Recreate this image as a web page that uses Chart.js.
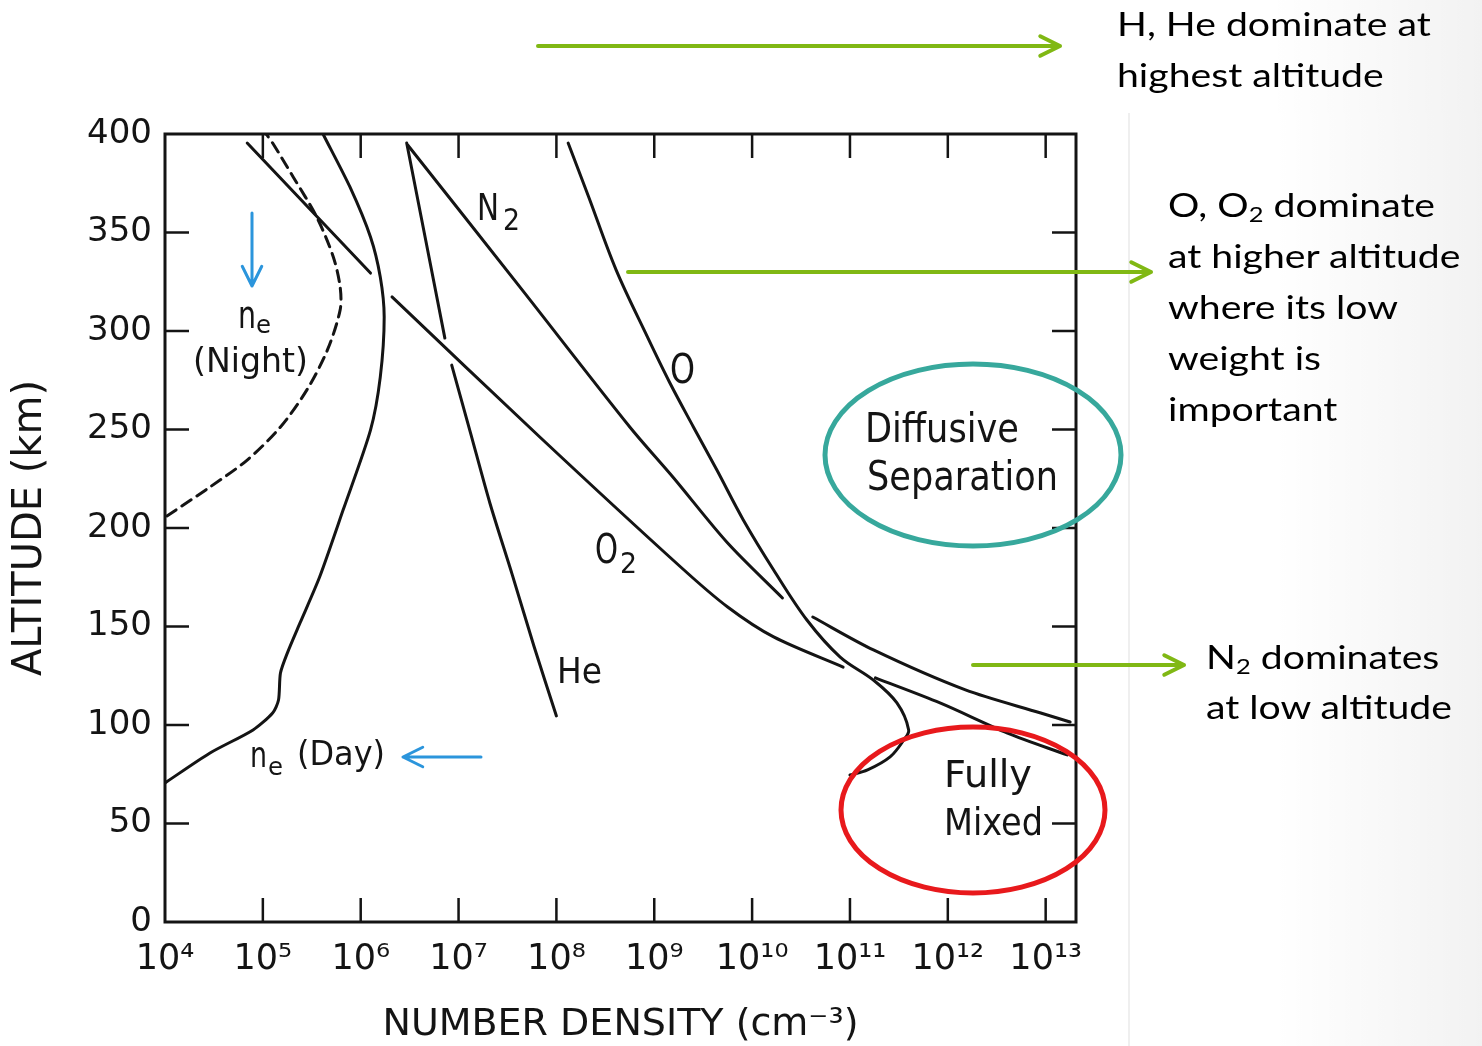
<!DOCTYPE html>
<html>
<head>
<meta charset="utf-8">
<script src="https://cdn.jsdelivr.net/npm/chart.js@4.4.1/dist/chart.umd.min.js"></script>
<style>
  html, body { margin: 0; padding: 0; background: #fff; }
  #wrap { position: relative; width: 1482px; height: 1046px; overflow: hidden; }
  #shade { position: absolute; left: 1128px; top: 113px; width: 354px; height: 933px;
           border-left: 2px solid #efefef;
           background: linear-gradient(to right, rgba(0,0,0,0) 40%, rgba(0,0,0,0.05)); }
  #topshade { position: absolute; left: 1128px; top: 0; width: 354px; height: 113px;
           background: linear-gradient(to right, rgba(0,0,0,0) 40%, rgba(0,0,0,0.05)); }
  canvas { position: absolute; left: 0; top: 0; }
  .note { position: absolute; font-family: Lato, "Open Sans", sans-serif; font-size: 32px;
          color: #000; white-space: nowrap; transform: scaleX(1.225); transform-origin: 0 0; }
  .note sub { font-size: 0.65em; vertical-align: -0.25em; line-height: 0; }
</style>
</head>
<body>
<div id="wrap">
  <div id="topshade"></div>
  <div id="shade"></div>
  <canvas id="chart" width="1482" height="1046"></canvas>
  <div class="note" style="left:1117px; top:-2px; line-height:51px;">H, He dominate at<br>highest altitude</div>
  <div class="note" style="left:1168px; top:179px; line-height:51px;">O, O<sub>2</sub> dominate<br>at higher altitude<br>where its low<br>weight is<br>important</div>
  <div class="note" style="left:1206px; top:632px; line-height:50px;">N<sub>2</sub> dominates<br>at low altitude</div>
</div>
<script>
// altitude profiles: log10(number density / cm^-3) and altitude (km)
// NaN marks the small breaks where a curve passes under another one
const neDayLogN = [4.00, 4.46, 4.90, 5.10, 5.16, 5.18, 5.25, 5.38, 5.58, 5.82, 6.10, 6.20, 6.24, 6.20, 6.10, 5.89, 5.62];
const neDayAlt  = [70.6, 85.8, 97.5, 106.1, 112.7, 126.4, 136.5, 151.8, 175.1, 209.1, 249.7, 276.6, 307.1, 327.4, 347.7, 373.1, 399.5];

const neNightLogN = [4.02, 4.46, 4.84, 5.18, 5.45, 5.66, 5.79, 5.79, 5.72, 5.55, 5.31, 5.10, 5.04];
const neNightAlt  = [206.1, 220.8, 234.5, 251.3, 270.1, 290.4, 310.7, 322.3, 337.6, 357.9, 378.2, 395.4, 399.5];

const heLogN = [6.47, 6.86, NaN, 6.93, 7.12, 7.32, 7.55, 7.77, 8.00];
const heAlt  = [395.4, 296.4, NaN, 282.7, 248.7, 212.7, 176.1, 140.1, 104.6];

const o2LogN = [4.84, 6.10, NaN, 6.32, 7.83, 9.27, 9.75, 10.22, 10.93, NaN, 11.26, 11.92, 12.61, 13.22];
const o2Alt  = [395.4, 329.4, NaN, 317.3, 246.2, 180.2, 159.9, 144.7, 129.4, NaN, 123.9, 111.2, 95.9, 84.8];

const n2LogN = [6.48, 7.62, 8.75, 9.19, 9.75, 10.31, NaN, 10.62, 11.24, 12.18, 12.95, 13.25];
const n2Alt  = [394.4, 322.8, 251.3, 225.9, 192.4, 164.5, NaN, 154.8, 138.1, 117.8, 106.1, 101.5];

const oLogN = [8.12, 8.33, 8.61, 8.93, 9.16, 9.40, 9.64, 9.91, 10.22, 10.56, 10.90, 11.24, 11.48, 11.60, 11.55, 11.41, 11.18, 11.00];
const oAlt  = [395.4, 368.0, 331.0, 297.0, 273.6, 251.3, 229.4, 204.1, 178.7, 153.3, 134.5, 122.8, 111.2, 97.5, 92.4, 83.8, 77.2, 74.6];

// axes
const xTickValues = [1e4, 1e5, 1e6, 1e7, 1e8, 1e9, 1e10, 1e11, 1e12, 1e13];
const xTickLabels = ['10⁴', '10⁵', '10⁶', '10⁷', '10⁸', '10⁹', '10¹⁰', '10¹¹', '10¹²', '10¹³'];
const yTickValues = [0, 50, 100, 150, 200, 250, 300, 350, 400];

const INK = '#141414';
const SCAN_FONT = '"DejaVu Sans", sans-serif';

function toPoints(logN, alt) {
  return logN.map((l, i) => ({ x: isNaN(l) ? NaN : Math.pow(10, l), y: alt[i] }));
}

function profile(logN, alt, dashed, tension) {
  return {
    data: toPoints(logN, alt),
    showLine: true,
    borderColor: INK,
    borderWidth: 3,
    borderDash: dashed ? [11, 7] : [],
    pointRadius: 0,
    tension: tension,
    spanGaps: false,
    borderCapStyle: 'round'
  };
}

// draw a label made of parts (base text, subscripts), optionally squeezed to a width
function drawLabel(ctx, x, y, parts) {
  let cx = x;
  parts.forEach((p) => {
    ctx.font = p.size + 'px ' + SCAN_FONT;
    const w = ctx.measureText(p.text).width;
    const sx = p.width ? p.width / w : 1;
    ctx.save();
    ctx.translate(cx, y + (p.dy || 0));
    ctx.scale(sx, 1);
    ctx.fillText(p.text, 0, 0);
    ctx.restore();
    cx += (p.width || w) + (p.gap || 0);
  });
}

function arrow(ctx, x1, y1, x2, y2, color, width, head) {
  const a = Math.atan2(y2 - y1, x2 - x1);
  ctx.save();
  ctx.strokeStyle = color;
  ctx.lineWidth = width;
  ctx.lineCap = 'round';
  ctx.lineJoin = 'round';
  ctx.beginPath();
  ctx.moveTo(x1, y1);
  ctx.lineTo(x2, y2);
  ctx.moveTo(x2 - head * Math.cos(a - 0.46), y2 - head * Math.sin(a - 0.46));
  ctx.lineTo(x2, y2);
  ctx.lineTo(x2 - head * Math.cos(a + 0.46), y2 - head * Math.sin(a + 0.46));
  ctx.stroke();
  ctx.restore();
}

const plotLabels = [
  { x: 477, y: 220, parts: [{ text: 'N', size: 37, width: 22, gap: 4 }, { text: '2', size: 30, width: 17, dy: 10 }] },
  { x: 670, y: 383, parts: [{ text: 'O', size: 41, width: 25 }] },
  { x: 595, y: 563, parts: [{ text: 'O', size: 41, width: 23, gap: 2 }, { text: '2', size: 29, width: 17, dy: 10 }] },
  { x: 557, y: 683, parts: [{ text: 'He', size: 36, width: 45 }] },
  { x: 238, y: 328, parts: [{ text: 'n', size: 38, width: 18 }, { text: 'e', size: 25, width: 15, dy: 5 }] },
  { x: 193, y: 372, parts: [{ text: '(Night)', size: 34, width: 115 }] },
  { x: 250, y: 767, parts: [{ text: 'n', size: 36, width: 17, gap: 1 }, { text: 'e', size: 25, width: 15, dy: 8 }] },
  { x: 297, y: 765, parts: [{ text: '(Day)', size: 34, width: 88 }] },
  { x: 865, y: 442, parts: [{ text: 'Diffusive', size: 41, width: 154 }] },
  { x: 867, y: 490, parts: [{ text: 'Separation', size: 41, width: 191 }] },
  { x: 944, y: 787, parts: [{ text: 'Fully', size: 37, width: 88 }] },
  { x: 944, y: 835, parts: [{ text: 'Mixed', size: 37, width: 99 }] }
];

const overlay = {
  id: 'overlay',
  afterDatasetsDraw(chart) {
    const { ctx, chartArea: a, scales: { x, y } } = chart;
    ctx.save();
    ctx.strokeStyle = INK;
    ctx.lineWidth = 3;
    ctx.strokeRect(a.left, a.top, a.right - a.left, a.bottom - a.top);
    ctx.lineWidth = 2.5;
    ctx.beginPath();
    xTickValues.slice(1).forEach((v) => {
      const px = x.getPixelForValue(v);
      ctx.moveTo(px, a.bottom); ctx.lineTo(px, a.bottom - 24);
      ctx.moveTo(px, a.top); ctx.lineTo(px, a.top + 24);
    });
    yTickValues.slice(1, -1).forEach((v) => {
      const py = y.getPixelForValue(v);
      ctx.moveTo(a.left, py); ctx.lineTo(a.left + 24, py);
      ctx.moveTo(a.right, py); ctx.lineTo(a.right - 24, py);
    });
    ctx.stroke();
    ctx.fillStyle = INK;
    ctx.textBaseline = 'alphabetic';
    plotLabels.forEach((l) => drawLabel(ctx, l.x, l.y, l.parts));
    ctx.restore();
  },
  afterDraw(chart) {
    const ctx = chart.ctx;
    const green = '#80b814';
    const blue = '#2b95dc';
    arrow(ctx, 538, 46, 1060, 46, green, 4, 22);
    arrow(ctx, 628, 272, 1151, 272, green, 4, 22);
    arrow(ctx, 973, 665, 1184, 665, green, 4, 22);
    arrow(ctx, 252, 213, 252, 286, blue, 3, 22);
    arrow(ctx, 481, 757, 403, 757, blue, 3, 22);
    ctx.save();
    ctx.lineWidth = 5;
    ctx.strokeStyle = '#37a89c';
    ctx.beginPath();
    ctx.ellipse(973, 455, 148, 91, 0, 0, Math.PI * 2);
    ctx.stroke();
    ctx.strokeStyle = '#e8191c';
    ctx.beginPath();
    ctx.ellipse(973, 810, 132, 83, 0, 0, Math.PI * 2);
    ctx.stroke();
    ctx.restore();
  }
};

const axisFont = { family: SCAN_FONT, size: 34 };

new Chart(document.getElementById('chart').getContext('2d'), {
  type: 'scatter',
  data: {
    datasets: [
      profile(neDayLogN, neDayAlt, false, 0.25),
      profile(neNightLogN, neNightAlt, true, 0.3),
      profile(heLogN, heAlt, false, 0.3),
      profile(o2LogN, o2Alt, false, 0.3),
      profile(n2LogN, n2Alt, false, 0.3),
      profile(oLogN, oAlt, false, 0.35)
    ]
  },
  options: {
    responsive: false,
    animation: false,
    devicePixelRatio: 1,
    layout: { padding: { left: 0, top: 134, right: 406, bottom: 0 } },
    plugins: { legend: { display: false }, tooltip: { enabled: false } },
    scales: {
      x: {
        type: 'logarithmic',
        min: 1e4,
        max: Math.pow(10, 13.31),
        afterBuildTicks: (s) => { s.ticks = xTickValues.map((v) => ({ value: v })); },
        afterFit: (s) => { s.height = 124; },
        grid: { display: false, drawTicks: false },
        border: { display: false },
        ticks: {
          autoSkip: false, maxRotation: 0, padding: 17, color: INK, font: { family: SCAN_FONT, size: 35 },
          callback: (v, i) => xTickLabels[i]
        },
        title: { display: true, text: 'NUMBER DENSITY (cm⁻³)', color: INK, font: { family: SCAN_FONT, size: 38 }, padding: { top: 0, bottom: -2 } }
      },
      y: {
        min: 0,
        max: 400,
        afterBuildTicks: (s) => { s.ticks = yTickValues.map((v) => ({ value: v })); },
        afterFit: (s) => { s.width = 165; },
        grid: { display: false, drawTicks: false },
        border: { display: false },
        ticks: { autoSkip: false, padding: 13, color: INK, font: axisFont },
        title: { display: true, text: 'ALTITUDE (km)', color: INK, font: { family: SCAN_FONT, size: 40 }, padding: { top: 7, bottom: 0 } }
      }
    }
  },
  plugins: [overlay]
});
</script>
</body>
</html>
